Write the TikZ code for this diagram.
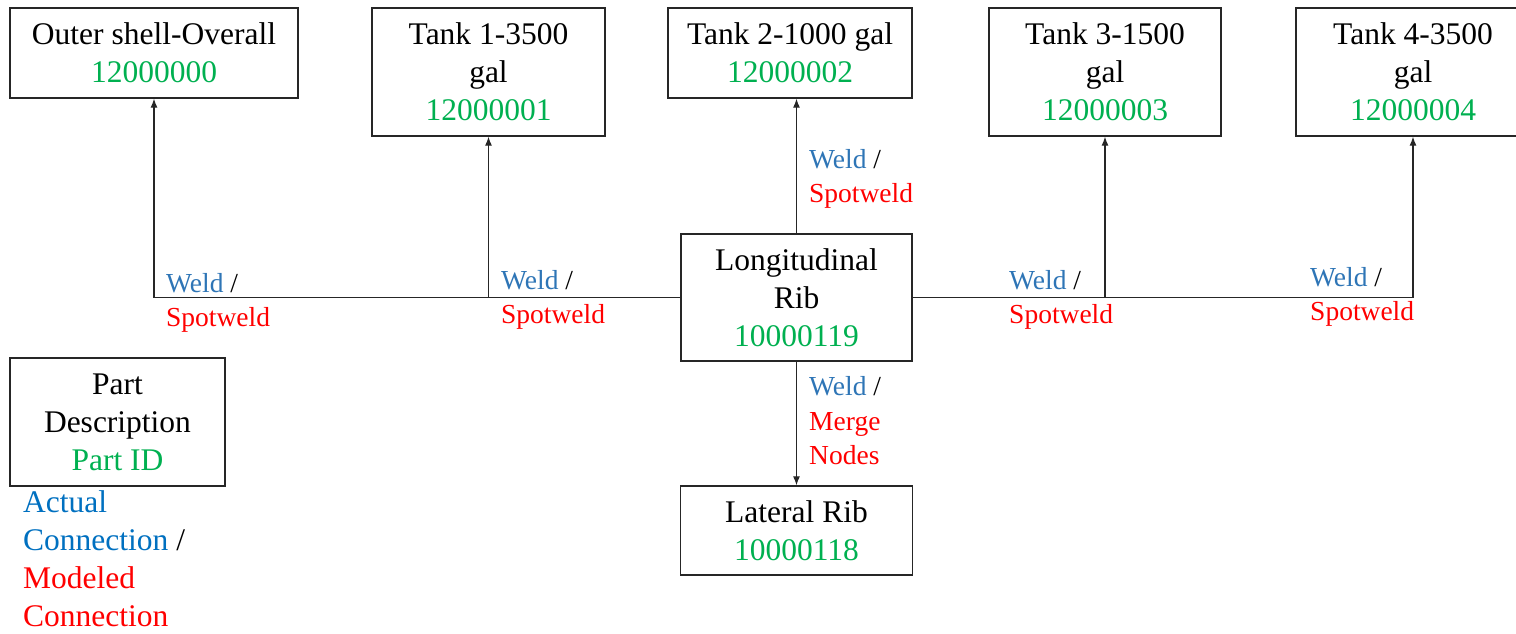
\documentclass[tikz,border=0pt]{standalone}
\usepackage{fontspec}
\setmainfont{Liberation Serif}
\usetikzlibrary{arrows.meta}
\definecolor{idgreen}{HTML}{00B050}
\definecolor{weldblue}{HTML}{2E75B6}
\definecolor{legblue}{HTML}{0070C0}
\definecolor{modred}{HTML}{FF0000}
\tikzset{
  partbox/.style={draw=black!85, line width=1.3pt, align=center, inner sep=0pt,
    font=\fontsize{31.5}{38}\selectfont},
  conn/.style={line width=1.2pt, draw=black!85, -{Latex[length=9pt,width=7pt]}},
  lbl/.style={align=left, inner sep=0pt, font=\fontsize{27.5}{34.5}\selectfont},
  legend/.style={align=left, inner sep=0pt, font=\fontsize{31.5}{38}\selectfont}
}
\newcommand{\pid}[1]{\textcolor{idgreen}{#1}}
\newcommand{\wl}[1]{\textcolor{weldblue}{Weld} /\\\textcolor{modred}{#1}}
\begin{document}
\begin{tikzpicture}[x=1pt,y=-1pt]
\useasboundingbox (0,0) rectangle (1516,633);
\begin{scope}
\clip (0,0) rectangle (1516,633);
\node[partbox, minimum width=288pt, minimum height=90pt] (outer) at (154,53) {Outer shell-Overall\\\pid{12000000}};
\node[partbox, minimum width=233pt, minimum height=128pt] (t1) at (488.5,72) {Tank 1-3500\\gal\\\pid{12000001}};
\node[partbox, minimum width=244pt, minimum height=90pt] (t2) at (790,53) {Tank 2-1000 gal\\\pid{12000002}};
\node[partbox, minimum width=232pt, minimum height=128pt] (t3) at (1105,72) {Tank 3-1500\\gal\\\pid{12000003}};
\node[partbox, minimum width=234pt, minimum height=128pt] (t4) at (1413,72) {Tank 4-3500\\gal\\\pid{12000004}};
\node[partbox, minimum width=231pt, minimum height=127pt] (rib) at (796.5,297.5) {Longitudinal\\Rib\\\pid{10000119}};
\node[partbox, minimum width=232pt, minimum height=89pt] (lat) at (796.5,530.5) {Lateral Rib\\\pid{10000118}};
\node[partbox, minimum width=215pt, minimum height=128pt] (part) at (117.5,422) {Part\\Description\\\pid{Part ID}};

\draw[conn] (rib.west) -| (outer.south);
\draw[conn] (rib.west -| t1.south) -- (t1.south);
\draw[conn] (rib.north) -- (rib.north |- t2.south);
\draw[conn] (rib.east) -| (t4.south);
\draw[conn] (rib.east -| t3.south) -- (t3.south);
\draw[conn] (rib.south) -- (rib.south |- lat.north);

\node[lbl, anchor=west] (l1) at (166,303) {\wl{Spotweld}};
\node[lbl, anchor=west] (l2) at (501,300) {\wl{Spotweld}};
\node[lbl, anchor=west] (l3) at (809,179) {\wl{Spotweld}};
\node[lbl, anchor=west] (l4) at (1009,300) {\wl{Spotweld}};
\node[lbl, anchor=west] (l5) at (1310,297) {\wl{Spotweld}};
\node[lbl, anchor=west] (l6) at (809,421) {\textcolor{weldblue}{Weld} /\\\textcolor{modred}{Merge}\\\textcolor{modred}{Nodes}};

\node[legend, anchor=north west] (leg) at (23,490) {\textcolor{legblue}{Actual}\\\textcolor{legblue}{Connection} /\\\textcolor{modred}{Modeled}\\\textcolor{modred}{Connection}};
\end{scope}
\end{tikzpicture}
\end{document}
